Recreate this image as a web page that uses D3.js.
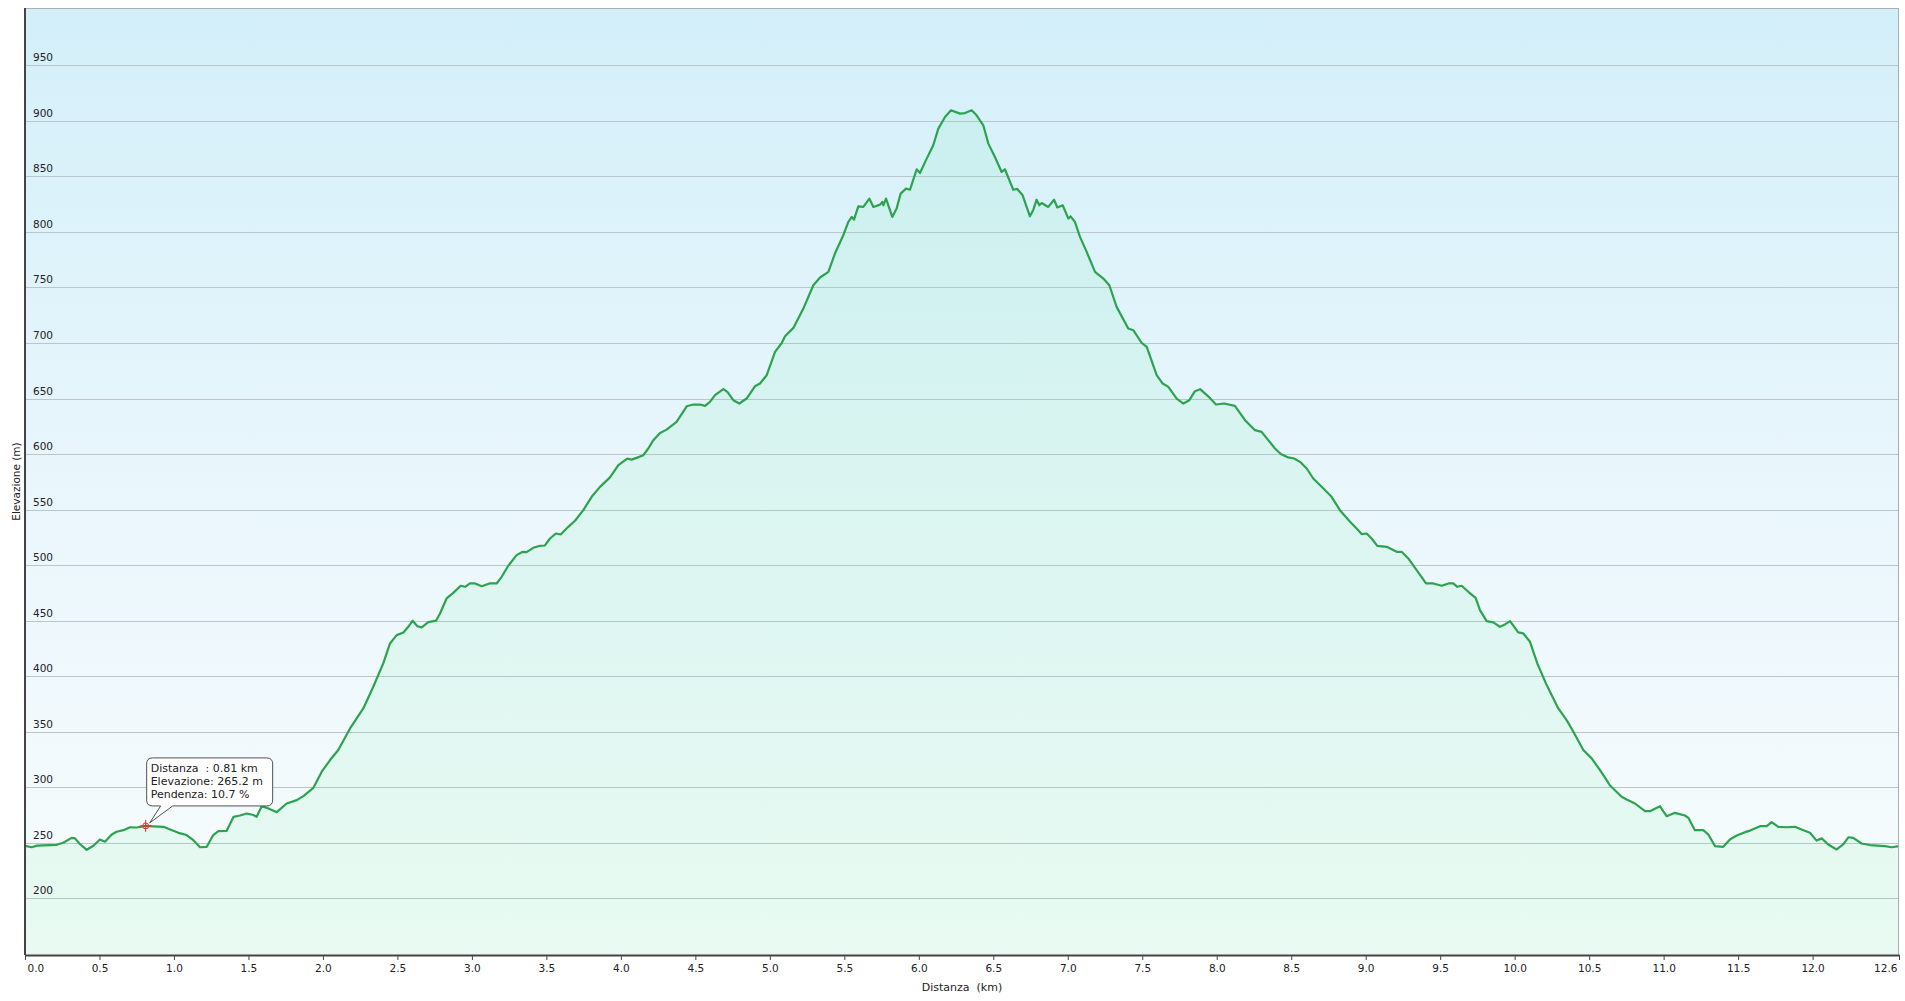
<!DOCTYPE html>
<html>
<head>
<meta charset="utf-8">
<script src="https://cdn.jsdelivr.net/npm/d3@7"></script>
<style>
  html, body { margin: 0; padding: 0; background: #ffffff; }
  svg { display: block; }
  text { font-family: "DejaVu Sans", Verdana, sans-serif; fill: #222; white-space: pre; }
</style>
</head>
<body>
<svg id="chart" width="1905" height="1001"></svg>
<script>
// ---- data ----
const distanceKm = [
  0.000,0.045,0.080,0.213,0.257,0.313,0.336,0.365,0.414,0.459,0.503,0.537,0.582,0.615,0.660,0.705,0.750,0.810,0.860,0.929,
  0.996,1.030,1.085,1.130,1.175,1.220,1.264,1.298,1.354,1.400,1.443,1.488,1.533,1.555,1.589,1.634,1.690,1.757,1.824,1.869,
  1.936,1.992,2.048,2.103,2.182,2.271,2.338,2.405,2.450,2.495,2.540,2.573,2.602,2.634,2.663,2.707,2.759,2.786,2.830,2.875,
  2.925,2.954,2.987,3.021,3.066,3.117,3.166,3.200,3.244,3.300,3.341,3.367,3.412,3.457,3.490,3.524,3.564,3.596,3.647,3.692,
  3.748,3.804,3.860,3.927,3.983,4.043,4.072,4.124,4.151,4.184,4.218,4.263,4.307,4.374,4.442,4.486,4.531,4.565,4.598,4.632,
  4.688,4.715,4.755,4.795,4.844,4.900,4.934,4.979,5.035,5.080,5.102,5.158,5.225,5.292,5.337,5.393,5.437,5.493,5.527,5.550,
  5.565,5.594,5.628,5.668,5.695,5.740,5.755,5.762,5.780,5.822,5.851,5.878,5.914,5.941,5.986,6.008,6.053,6.097,6.131,6.176,
  6.216,6.277,6.310,6.355,6.388,6.433,6.467,6.511,6.556,6.578,6.634,6.661,6.697,6.746,6.769,6.791,6.809,6.825,6.869,6.908,
  6.930,6.966,7.004,7.019,7.048,7.082,7.127,7.183,7.239,7.279,7.328,7.406,7.440,7.496,7.530,7.597,7.637,7.675,7.731,7.776,
  7.816,7.854,7.888,7.943,7.995,8.049,8.122,8.190,8.257,8.301,8.391,8.430,8.480,8.520,8.559,8.604,8.648,8.716,8.771,8.827,
  8.895,8.939,8.973,9.006,9.040,9.078,9.141,9.208,9.241,9.286,9.342,9.405,9.454,9.510,9.555,9.588,9.615,9.644,9.689,9.738,
  9.767,9.812,9.857,9.901,9.935,9.969,10.024,10.058,10.103,10.152,10.215,10.293,10.349,10.394,10.461,10.517,10.573,10.610,10.640,10.718,
  10.752,10.808,10.875,10.908,10.975,11.020,11.076,11.143,11.166,11.210,11.266,11.300,11.345,11.400,11.445,11.490,11.546,11.580,11.647,11.692,
  11.725,11.770,11.826,11.882,11.926,11.982,12.027,12.061,12.105,12.161,12.206,12.240,12.273,12.329,12.385,12.486,12.531,12.580
];
const elevationM = [
  247.3,246.0,247.5,248.2,250.0,254.5,254.0,249.4,243.7,247.3,253.0,251.0,257.5,260.0,261.4,264.0,263.8,265.2,264.8,264.4,
  260.8,259.0,257.0,252.4,246.0,246.4,257.0,260.5,260.8,273.4,274.6,276.4,275.0,273.4,283.0,281.0,277.6,285.4,288.4,292.0,
  299.5,314.0,324.5,333.5,353.0,371.0,390.5,411.5,429.5,437.0,439.4,444.5,450.0,445.0,444.0,448.7,450.0,456.5,470.0,475.0,
  481.4,480.5,483.5,483.5,481.0,483.5,483.5,489.5,499.4,509.0,512.0,511.7,515.6,517.4,517.7,524.0,528.5,527.6,534.5,540.0,
  549.5,561.5,570.5,579.0,590.0,596.0,595.0,597.5,599.0,605.0,612.5,619.0,622.0,629.0,643.0,644.6,644.6,643.4,647.0,653.0,
  658.4,656.0,648.5,645.5,650.0,661.0,663.5,671.0,692.0,700.0,706.0,713.6,731.0,752.0,759.0,764.0,780.5,797.0,809.0,813.5,
  811.0,823.0,822.5,830.0,822.5,824.6,827.0,824.0,830.0,813.5,821.0,834.5,839.0,838.0,856.4,853.0,866.0,878.0,893.0,903.5,
  909.5,906.5,907.0,909.5,905.0,896.0,879.5,867.5,854.0,856.4,838.0,838.7,833.0,814.0,820.0,829.0,824.0,826.0,822.5,829.0,
  822.0,824.0,812.0,814.0,809.0,795.5,782.0,764.0,758.0,752.0,732.5,713.0,711.5,700.0,696.5,671.0,663.5,660.5,650.0,645.5,
  648.5,656.6,658.4,652.0,644.6,645.5,643.4,630.5,621.5,620.0,605.0,600.0,597.0,596.0,593.0,587.0,578.0,569.0,561.5,549.5,
  539.0,533.0,528.0,528.5,524.0,517.4,516.5,512.0,512.0,506.0,495.5,483.5,483.5,481.4,483.5,483.5,480.5,481.4,476.0,470.6,
  459.5,449.6,448.4,444.5,446.6,449.6,439.4,438.5,431.0,411.5,392.0,371.0,360.5,350.0,333.5,326.0,315.5,308.0,301.6,291.4,
  289.0,285.4,278.5,278.5,283.0,274.0,277.0,274.6,272.5,261.4,261.4,257.5,247.0,246.4,253.0,256.6,259.6,261.0,265.0,265.0,
  268.6,264.4,264.0,264.4,262.0,259.0,252.0,254.0,248.5,244.0,248.5,255.0,254.5,249.4,248.0,247.0,246.0,247.0
];
const yTickValues = [200,250,300,350,400,450,500,550,600,650,700,750,800,850,900,950];
const xTickValues = [0,0.5,1,1.5,2,2.5,3,3.5,4,4.5,5,5.5,6,6.5,7,7.5,8,8.5,9,9.5,10,10.5,11,11.5,12,12.58];
const xTickLabels = ["0.0","0.5","1.0","1.5","2.0","2.5","3.0","3.5","4.0","4.5","5.0","5.5","6.0","6.5","7.0","7.5","8.0","8.5","9.0","9.5","10.0","10.5","11.0","11.5","12.0","12.6"];
const tooltipPoint = { km: 0.81, elev: 265.2 };
const tooltipLines = ["Distanza  : 0.81 km", "Elevazione: 265.2 m", "Pendenza: 10.7 %"];
const xTitle = "Distanza  (km)";
const yTitle = "Elevazione (m)";

// ---- layout ----
const W = 1905, H = 1001;
const m = { left: 25, top: 8, right: 6, bottom: 46 };
const pw = W - m.left - m.right, ph = H - m.top - m.bottom;

const svg = d3.select("#chart");
const defs = svg.append("defs");
const bg = defs.append("linearGradient").attr("id", "bg").attr("x1", 0).attr("y1", 0).attr("x2", 0).attr("y2", 1);
bg.append("stop").attr("offset", "0%").attr("stop-color", "#d3eff9");
bg.append("stop").attr("offset", "55%").attr("stop-color", "#ebf7fc");
bg.append("stop").attr("offset", "100%").attr("stop-color", "#f8fcfd");
const ag = defs.append("linearGradient").attr("id", "areaG").attr("x1", 0).attr("y1", 0).attr("x2", 0).attr("y2", 1);
ag.append("stop").attr("offset", "0%").attr("stop-color", "rgb(80,225,150)").attr("stop-opacity", 0.10);
ag.append("stop").attr("offset", "100%").attr("stop-color", "rgb(90,235,140)").attr("stop-opacity", 0.10);

const x = d3.scaleLinear().domain([0, 12.58]).range([0, pw]);
const y = d3.scaleLinear().domain([149, 1001.6]).range([ph, 0]);

const g = svg.append("g").attr("transform", `translate(${m.left},${m.top})`);

g.append("rect").attr("width", pw).attr("height", ph).attr("fill", "url(#bg)");

// gridlines
g.append("g").selectAll("line").data(yTickValues).join("line")
  .attr("x1", 0).attr("x2", pw)
  .attr("y1", d => Math.round(y(d)) + 0.5).attr("y2", d => Math.round(y(d)) + 0.5)
  .attr("stroke", "#bac6cb").attr("stroke-width", 1);

const pts = distanceKm.map((d, i) => [d, elevationM[i]]);

g.append("path").datum(pts)
  .attr("fill", "url(#areaG)")
  .attr("d", d3.area().x(d => x(d[0])).y0(ph).y1(d => y(d[1])));

g.append("path").datum(pts)
  .attr("fill", "none").attr("stroke", "#2ca34e").attr("stroke-width", 2.2)
  .attr("stroke-linejoin", "round")
  .attr("d", d3.line().x(d => x(d[0])).y(d => y(d[1])));

// y labels (inside plot)
g.append("g").selectAll("text").data(yTickValues).join("text")
  .attr("x", 8).attr("y", d => y(d) - 4)
  .attr("font-size", "10.5px").text(d => d);

// frame
g.append("line").attr("x1", 0).attr("x2", pw).attr("y1", 0.5).attr("y2", 0.5).attr("stroke", "#a8b0b4");
g.append("line").attr("x1", pw - 0.5).attr("x2", pw - 0.5).attr("y1", 0).attr("y2", ph).attr("stroke", "#a8b0b4");

// x axis
const xAxis = d3.axisBottom(x).tickValues(xTickValues).tickSize(5).tickSizeOuter(0)
  .tickFormat((d, i) => xTickLabels[i]);
const xa = g.append("g").attr("transform", `translate(0,${ph})`).call(xAxis);
xa.select(".domain").attr("stroke", "#444").attr("stroke-width", 2);
xa.selectAll(".tick line").attr("stroke", "#444");
xa.selectAll(".tick text").attr("font-size", "10.5px").attr("fill", "#222")
  .attr("font-family", '"DejaVu Sans", Verdana, sans-serif').attr("dy", "0.71em").attr("y", 10);
xa.selectAll(".tick text").filter((d, i) => i === 0).attr("text-anchor", "start").attr("dx", 2);
xa.selectAll(".tick text").filter((d, i) => i === xTickValues.length - 1).attr("text-anchor", "end").attr("dx", -2);

// y axis line
g.append("line").attr("x1", 0).attr("x2", 0).attr("y1", 0).attr("y2", ph).attr("stroke", "#444").attr("stroke-width", 2);

// titles
svg.append("text").attr("x", m.left + pw / 2).attr("y", 991).attr("text-anchor", "middle")
  .attr("font-size", "11px").text(xTitle);
svg.append("text").attr("transform", `translate(19.5,${m.top + ph / 2}) rotate(-90)`).attr("text-anchor", "middle")
  .attr("font-size", "10.5px").text(yTitle);

// tooltip marker
const mx = x(tooltipPoint.km), my = y(tooltipPoint.elev);
const tg = g.append("g");
const bx = mx + 1, by = my - 68; // box top-left
const bw = 126, bh = 48, r = 6;
const p1 = mx + 15, p2 = mx + 27;
const boxPath = `M${bx + r},${by} H${bx + bw - r} Q${bx + bw},${by} ${bx + bw},${by + r} V${by + bh - r} Q${bx + bw},${by + bh} ${bx + bw - r},${by + bh} H${p2} L${mx + 4},${my - 3} L${p1},${by + bh} H${bx + r} Q${bx},${by + bh} ${bx},${by + bh - r} V${by + r} Q${bx},${by} ${bx + r},${by} Z`;
tg.append("path").attr("d", boxPath).attr("fill", "#ffffff").attr("stroke", "#505050").attr("stroke-width", 1);
tg.selectAll("text").data(tooltipLines).join("text")
  .attr("x", bx + 4).attr("y", (d, i) => by + 14 + i * 12.8)
  .attr("font-size", "11px").attr("fill", "#111").text(d => d);

const mk = g.append("g").attr("stroke", "#e03030").attr("fill", "none").attr("stroke-width", 1);
mk.append("circle").attr("cx", mx).attr("cy", my).attr("r", 3);
mk.append("line").attr("x1", mx - 6).attr("x2", mx + 6).attr("y1", my).attr("y2", my);
mk.append("line").attr("x1", mx).attr("x2", mx).attr("y1", my - 6).attr("y2", my + 6);
mk.append("circle").attr("cx", mx).attr("cy", my).attr("r", 1).attr("fill", "#e03030");
</script>
</body>
</html>
